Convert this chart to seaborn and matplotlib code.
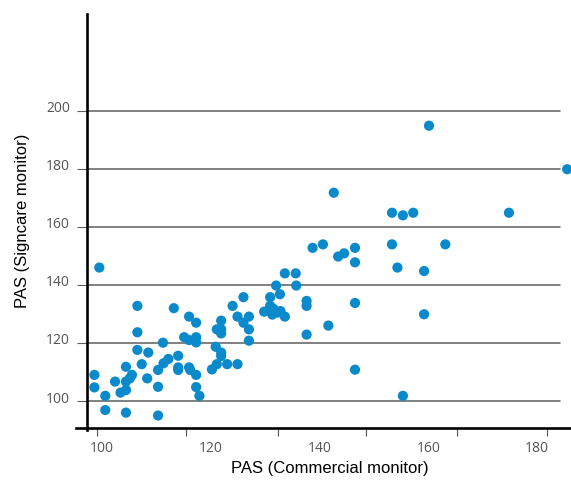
import matplotlib
matplotlib.use("Agg")
import matplotlib.pyplot as plt
import matplotlib.transforms as mtransforms
import seaborn as sns
import pandas as pd

# PAS readings: commercial monitor (x) vs Signcare monitor (y)
pas_commercial = [
    99.5, 98.6, 98.6, 100.6, 100.6, 102.4, 103.4, 104.4, 104.4, 105.1,
    105.5, 104.4, 104.4, 106.5, 106.5, 106.5, 108.5, 107.3, 108.3, 110.3,
    110.3, 110.3, 111.2, 111.3, 112.2, 113.2, 114.0, 114.0, 114.0, 115.1,
    116.0, 116.0, 117.3, 117.3, 117.3, 116.0, 116.2, 117.3, 117.3, 117.9,
    120.2, 121.1, 123.0, 124.9, 120.9, 121.9, 121.9, 121.1, 121.9, 121.9,
    121.9, 124.0, 124.9, 126.0, 127.0, 127.0, 127.0, 126.0, 129.8, 130.9,
    131.5, 132.3, 131.3, 132.8, 133.6, 130.9, 132.7, 132.0, 135.7, 133.6,
    135.6, 137.6, 137.6, 137.6, 141.6, 138.7, 140.6, 142.6, 143.4, 144.5,
    146.5, 146.5, 146.5, 146.5, 153.3, 155.3, 157.2, 153.3, 154.3, 159.2,
    159.2, 155.3, 160.1, 163.1, 174.8, 185.5,
]
pas_signcare = [
    146.0, 109.0, 104.7, 101.8, 96.9, 106.7, 102.9, 103.8, 106.7, 107.8,
    109.0, 111.8, 96.0, 123.7, 132.8, 117.6, 116.7, 112.7, 107.8, 110.7,
    104.9, 95.0, 120.1, 113.0, 114.5, 132.0, 115.6, 111.6, 110.7, 122.0,
    121.0, 129.1, 127.0, 122.0, 120.2, 111.6, 110.7, 109.0, 104.8, 101.8,
    110.9, 112.7, 112.7, 112.7, 118.7, 116.7, 115.5, 124.7, 124.7, 123.3,
    127.7, 132.8, 129.1, 127.0, 129.1, 124.7, 120.8, 135.8, 130.8, 132.8,
    131.8, 130.5, 129.8, 131.0, 129.1, 135.8, 136.8, 139.8, 139.8, 144.0,
    144.0, 134.5, 132.8, 122.9, 126.0, 152.8, 154.0, 171.8, 149.8, 150.9,
    152.8, 147.8, 133.8, 110.8, 164.9, 164.0, 164.9, 154.0, 146.0, 144.8,
    129.9, 101.8, 194.9, 154.0, 164.9, 179.9,
]
x_tick_values = [100, 120, 140, 160, 180]
y_tick_values = [100, 120, 140, 160, 180, 200]

df = pd.DataFrame({"commercial": pas_commercial, "signcare": pas_signcare})

sns.set_theme(style="white")
plt.rcParams["font.family"] = ["Open Sans", "DejaVu Sans"]

fig = plt.figure(figsize=(5.71, 4.8), dpi=100)
ax = fig.add_axes([87 / 571, 52 / 480, 484 / 571, 414 / 480])

grid_color = "#5e5e5e"
for yv in y_tick_values:
    ax.axhline(yv, xmin=0, xmax=0.977, color=grid_color, lw=1.1, zorder=1)

sns.scatterplot(data=df, x="commercial", y="signcare", ax=ax,
                color="#0a8acb", s=54, edgecolor="none", linewidth=0,
                clip_on=False, zorder=3, legend=False)

ax.set_xlim(97.24, 186.2)
ax.set_ylim(90.7, 233.4)

# spines
for side in ["top", "right"]:
    ax.spines[side].set_visible(False)
ax.spines["left"].set_linewidth(1.9)
ax.spines["bottom"].set_linewidth(1.9)
ax.spines["left"].set_color("black")
ax.spines["bottom"].set_color("black")
ax.spines["bottom"].set_bounds(95.2, 186.2)
ax.spines["left"].set_bounds(90.0, 233.4)

# y ticks: outward gray tick marks continuing the gridlines
ax.set_yticks(y_tick_values)
ax.set_yticklabels([str(v) for v in y_tick_values])
ax.tick_params(axis="y", which="major", direction="out", length=7.2,
               width=0.8, color=grid_color, pad=5, labelsize=10,
               labelcolor="#555555", left=True)
lift = mtransforms.ScaledTranslation(0, 4 / 100, fig.dpi_scale_trans)
for lab in ax.get_yticklabels():
    lab.set_transform(lab.get_transform() + lift)

# x ticks: labels at round values, marks at separate spots
ax.set_xticks(x_tick_values)
ax.set_xticklabels([str(v) for v in x_tick_values])
ax.tick_params(axis="x", which="major", length=0, pad=9, labelsize=10,
               labelcolor="#555555", bottom=True)
mark_positions = [99.0, 115.5, 132.3, 148.5, 165.3, 181.8]
ax.set_xticks(mark_positions, minor=True)
ax.tick_params(axis="x", which="minor", direction="out", length=6,
               width=0.8, color="#555555", bottom=True)

label_font = ["Liberation Sans", "DejaVu Sans"]
ax.set_xlabel("PAS (Commercial monitor)", fontsize=12, color="black",
              family=label_font)
ax.set_ylabel("PAS (Signcare monitor)", fontsize=12, color="black",
              family=label_font)
ax.xaxis.set_label_coords(0.502, -0.080)
ax.yaxis.set_label_coords(-0.118, 0.50)

fig.savefig("out.png", dpi=100)
